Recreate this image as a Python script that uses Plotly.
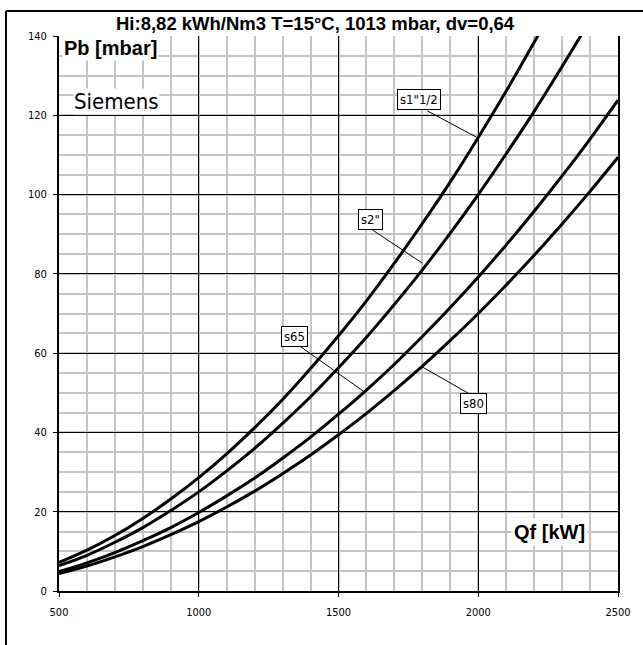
import plotly.graph_objects as go

# ---- data ----
Q_kW = [500, 600, 700, 800, 900, 1000, 1100, 1200, 1300, 1400, 1500,
        1600, 1700, 1800, 1900, 2000, 2100, 2200, 2300, 2400, 2500]
pb_s1_1_2 = [7.2, 10.3, 14.0, 18.3, 23.2, 28.6, 34.6, 41.2, 48.3, 56.1, 64.4,
             73.2, 82.7, 92.7, 103.2, 114.4, 126.1, 138.4, 151.3, 164.7, 178.8]
pb_s2 = [6.4, 9.0, 12.3, 16.0, 20.3, 25.0, 30.3, 36.0, 42.3, 49.0, 56.3,
         64.0, 72.3, 81.0, 90.3, 100.0, 110.3, 121.0, 132.3, 144.0, 156.3]
pb_s65 = [4.9, 7.1, 9.7, 12.7, 16.0, 19.8, 24.0, 28.5, 33.5, 38.8, 44.6,
          50.7, 57.2, 64.2, 71.5, 79.2, 87.3, 95.8, 104.7, 114.0, 123.8]
pb_s80 = [4.4, 6.3, 8.6, 11.2, 14.2, 17.5, 21.2, 25.2, 29.6, 34.3, 39.4,
          44.8, 50.6, 56.7, 63.2, 70.0, 77.2, 84.7, 92.6, 100.8, 109.4]
series_names = ['s1"1/2', 's2"', 's65', 's80']
series_values = [pb_s1_1_2, pb_s2, pb_s65, pb_s80]
x_ticks = [500, 1000, 1500, 2000, 2500]
y_ticks = [0, 20, 40, 60, 80, 100, 120, 140]
title_text = "Hi:8,82 kWh/Nm3 T=15°C, 1013 mbar, dv=0,64"

NARROW = "DejaVu Sans Condensed, DejaVu Sans, sans-serif"
BOLD = "Liberation Sans, Arial, sans-serif"

fig = go.Figure()
for name, vals in zip(series_names, series_values):
    fig.add_trace(go.Scatter(x=Q_kW, y=vals, mode="lines", name=name,
                             line=dict(color="black", width=3, shape="spline"),
                             showlegend=False, hoverinfo="skip"))

# label boxes with leader lines: (label, box center, leader start, leader end)
labels = [
    ('s1"1/2', (1789, 123.9), (1818, 121.1), (1993, 114.5)),
    ('s2"', (1614, 93.8), (1621, 91.1), (1800, 82.7)),
    ('s65', (1343, 64.3), (1361, 61.8), (1593, 50.2)),
    ('s80', (1982, 47.4), (1964, 49.9), (1800, 56.5)),
]
shapes = []
annotations = []
for text, c, s, e in labels:
    shapes.append(dict(type="line", xref="x", yref="y", x0=s[0], y0=s[1], x1=e[0], y1=e[1],
                       line=dict(color="black", width=1), layer="above"))
    annotations.append(dict(x=c[0], y=c[1], xref="x", yref="y", text=text, showarrow=False,
                            font=dict(family=NARROW, size=13, color="black"),
                            bgcolor="white", bordercolor="black", borderwidth=1, borderpad=2))

annotations += [
    dict(x=686, y=137, xref="x", yref="y", text="<b>Pb [mbar]</b>", showarrow=False,
         font=dict(family=BOLD, size=20, color="black"), bgcolor="white", borderpad=1),
    dict(x=704, y=123.4, xref="x", yref="y", text="Siemens", showarrow=False,
         font=dict(family=NARROW, size=22, color="black"), bgcolor="white", borderpad=0),
    dict(x=2254, y=14.9, xref="x", yref="y", text="<b>Qf [kW]</b>", showarrow=False,
         font=dict(family=BOLD, size=20, color="black"), bgcolor="white", borderpad=2),
    dict(x=0.458, y=1.0234, xref="paper", yref="paper", xanchor="center", yanchor="middle",
         text="<b>" + title_text + "</b>",
         showarrow=False, font=dict(family=BOLD, size=18.5, color="black")),
]

# outer frame (left and top edges visible)
shapes += [
    dict(type="line", xref="paper", yref="paper", x0=-0.0948, x1=-0.0948, y0=-0.2, y1=1.045,
         line=dict(color="black", width=2)),
    dict(type="line", xref="paper", yref="paper", x0=-0.0948, x1=1.2, y0=1.045, y1=1.045,
         line=dict(color="black", width=2)),
]

fig.update_layout(
    width=643, height=645, autosize=False,
    margin=dict(l=59, r=25, t=36, b=54),
    paper_bgcolor="white", plot_bgcolor="white",
    shapes=shapes, annotations=annotations,
    xaxis=dict(range=[500, 2500], tickvals=x_ticks, ticktext=[str(v) for v in x_ticks],
               showgrid=True, gridcolor="black", gridwidth=1,
               minor=dict(dtick=100, tick0=500, showgrid=True, gridcolor="#c4c4c4", gridwidth=2, ticks=""),
               showline=True, linecolor="black", linewidth=2, mirror=False,
               ticks="outside", ticklen=4, tickcolor="black", zeroline=False,
               ticklabelstandoff=6,
               tickfont=dict(family=NARROW, size=11, color="black")),
    yaxis=dict(range=[0, 140], tickvals=y_ticks, ticktext=[str(v) for v in y_ticks],
               showgrid=True, gridcolor="black", gridwidth=1,
               minor=dict(dtick=5, tick0=0, showgrid=True, gridcolor="#c4c4c4", gridwidth=2, ticks=""),
               showline=True, linecolor="black", linewidth=2, mirror=True,
               ticks="outside", ticklen=4, tickcolor="black", zeroline=False,
               ticklabelstandoff=4,
               tickfont=dict(family=NARROW, size=11, color="black")),
)

fig.write_html("out.html")
